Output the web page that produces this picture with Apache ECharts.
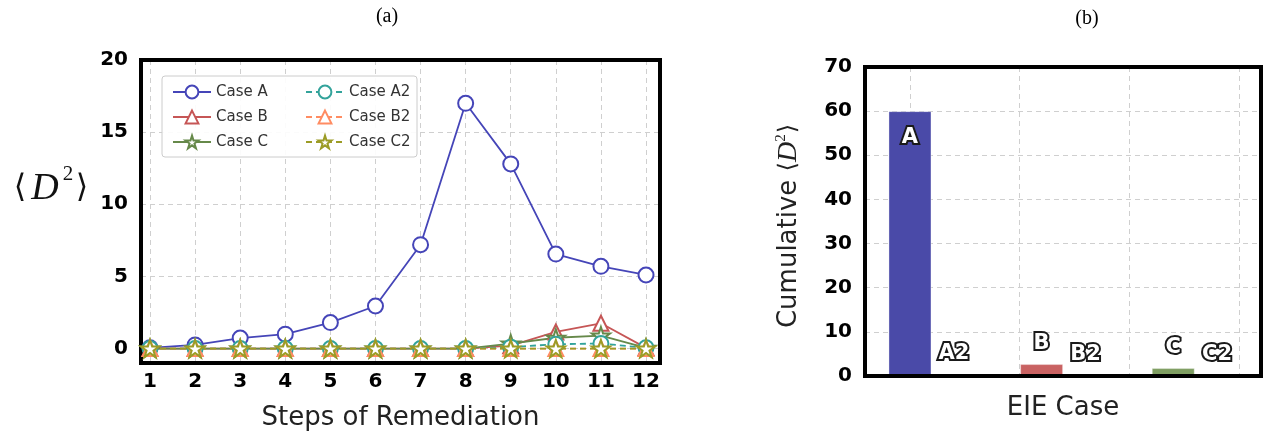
<!DOCTYPE html>
<html>
<head>
<meta charset="utf-8">
<script src="https://cdn.jsdelivr.net/npm/echarts@6/dist/echarts.min.js"></script>
<style>
html,body{margin:0;padding:0;background:#fff;}
#chart{width:1266px;height:445px;}
</style>
</head>
<body>
<div id="chart"></div>
<script>
// ---------- data: panel (a) ----------
const steps = [1,2,3,4,5,6,7,8,9,10,11,12];
const xTickLabels = [1,2,3,4,5,6,7,8,9,10,11,12];
const yTickLabelsA = [0,5,10,15,20];
const caseA  = [0.05,0.25,0.73,1.0,1.8,2.95,7.2,17.0,12.8,6.55,5.7,5.1];
const caseB  = [0,0,0,0,0,0,0,0,0.2,1.15,1.75,0.05];
const caseC  = [0,0,0,0,0,0,0,0,0.35,0.75,0.9,0.05];
const caseA2 = [0,0,0,0,0,0,0,0,0.1,0.3,0.35,0.05];
const caseB2 = [0,0,0,0,0,0,0,0,0,0,0,0];
const caseC2 = [0,0,0,0,0,0,0,0,0,0,0,0];

// ---------- data: panel (b) ----------
const eieCases     = ['A','A2','B','B2','C','C2'];
const eiePositions = [0,0.4,1.2,1.6,2.4,2.8];
const cumulative   = [60,0.4,2.7,0.1,1.8,0.1];
const yTickLabelsB = [0,10,20,30,40,50,60,70];
const xGridB       = [0,1,2,3];

const STAR = 'path://M0,-10 L2.25,-3.09 L9.51,-3.09 L3.63,1.18 L5.88,8.09 L0,3.82 L-5.88,8.09 L-3.63,1.18 L-9.51,-3.09 L-2.25,-3.09 Z';
const colors = {
  'Case A':'#4545b8','Case B':'#c65656','Case C':'#66894a',
  'Case A2':'#33a39b','Case B2':'#ff8c62','Case C2':'#9c9c26'
};
const barColors = {A:'#4a4aa8',B:'#c96262',C:'#7f9e62'};

function mkLine(name, vals, symbol, dashed, size){
  const c = colors[name];
  return {
    name, type:'line', xAxisIndex:0, yAxisIndex:0,
    data: steps.map((s,i)=>[s, vals[i]]),
    symbol, symbolSize: size, symbolKeepAspect:true, showAllSymbol:true,
    lineStyle:{color:c, width:1.8, type: dashed ? [6,4] : 'solid'},
    itemStyle:{color:'#fff', borderColor:c, borderWidth:2},
    emphasis:{disabled:true}
  };
}

const chart = echarts.init(document.getElementById('chart'), null, {renderer:'canvas'});
const tickFont = {fontFamily:'DejaVu Sans', fontWeight:'bold', fontSize:20, color:'#000'};
const gridLine = {show:true, lineStyle:{color:'#cfcfcf', type:[5,4], width:1}};

const option = {
  animation:false,
  backgroundColor:'#fff',
  grid:[
    {left:141, right:606, top:60, bottom:82, show:true, borderColor:'#000', borderWidth:4, backgroundColor:'transparent', z:3},
    {left:865, right:5, top:67, bottom:69, show:true, borderColor:'#000', borderWidth:4, backgroundColor:'transparent', z:3}
  ],
  xAxis:[
    {type:'value', gridIndex:0, min:0.8, max:12.31,
     axisLine:{show:false}, axisTick:{show:false, customValues:xTickLabels},
     axisLabel:Object.assign({customValues:xTickLabels, margin:9}, tickFont),
     splitLine:gridLine,
     name:'Steps of Remediation', nameLocation:'middle', nameGap:42,
     nameTextStyle:{fontFamily:'DejaVu Sans', fontSize:26, color:'#222'}},
    {type:'value', gridIndex:1, min:-0.41, max:3.2,
     axisLine:{show:false}, axisTick:{show:false, customValues:xGridB},
     axisLabel:{show:false, customValues:xGridB},
     splitLine:gridLine,
     name:'EIE Case', nameLocation:'middle', nameGap:19,
     nameTextStyle:{fontFamily:'DejaVu Sans', fontSize:26, color:'#222'}}
  ],
  yAxis:[
    {type:'value', gridIndex:0, min:-1, max:20,
     axisLine:{show:false}, axisTick:{show:false, customValues:yTickLabelsA},
     axisLabel:Object.assign({customValues:yTickLabelsA, margin:13}, tickFont),
     splitLine:gridLine},
    {type:'value', gridIndex:1, min:0, max:70,
     axisLine:{show:false}, axisTick:{show:false, customValues:yTickLabelsB},
     axisLabel:Object.assign({customValues:yTickLabelsB, margin:13}, tickFont),
     splitLine:gridLine}
  ],
  legend:[
    {data:['Case A','Case B','Case C'], orient:'vertical', left:167, top:79,
     itemWidth:38, itemHeight:16, itemGap:9, z:6,
     textStyle:{fontFamily:'DejaVu Sans', fontSize:15, color:'#333', lineHeight:16}},
    {data:['Case A2','Case B2','Case C2'], orient:'vertical', left:300, top:79,
     itemWidth:38, itemHeight:16, itemGap:9, z:6,
     textStyle:{fontFamily:'DejaVu Sans', fontSize:15, color:'#333', lineHeight:16}}
  ],
  graphic:[
    {type:'rect', z:5, shape:{x:162, y:76, width:255, height:81, r:3},
     style:{fill:'rgba(255,255,255,0.9)', stroke:'#cccccc', lineWidth:1}},
    {type:'text', x:387, y:17, z:5, style:{text:'(a)', font:'20px "Liberation Serif"', fill:'#000', align:'center', verticalAlign:'middle'}},
    {type:'text', x:1087, y:19, z:5, style:{text:'(b)', font:'20px "Liberation Serif"', fill:'#000', align:'center', verticalAlign:'middle'}},
    // y-axis label of (a): <D^2>
    {type:'text', x:20, y:189, z:5, style:{text:'\u27E8', font:'32px "DejaVu Serif"', fill:'#111', align:'center', verticalAlign:'middle'}},
    {type:'text', x:45, y:189, z:5, style:{text:'D', font:'italic 38px "Liberation Serif"', fill:'#111', align:'center', verticalAlign:'middle'}},
    {type:'text', x:68, y:174, z:5, style:{text:'2', font:'21px "Liberation Serif"', fill:'#111', align:'center', verticalAlign:'middle'}},
    {type:'text', x:82, y:189, z:5, style:{text:'\u27E9', font:'32px "DejaVu Serif"', fill:'#111', align:'center', verticalAlign:'middle'}},
    // y-axis label of (b)
    {type:'text', x:789, y:226, rotation:Math.PI/2, z:5,
     style:{text:'{t|Cumulative }{b|\u27E8}{d|D}{s|2}{b|\u27E9}', align:'center', verticalAlign:'middle', fill:'#222',
       rich:{
         t:{fontFamily:'DejaVu Sans', fontSize:26, lineHeight:30, verticalAlign:'middle'},
         b:{fontFamily:'DejaVu Serif', fontSize:24, lineHeight:30, verticalAlign:'middle'},
         d:{fontFamily:'Liberation Serif', fontStyle:'italic', fontSize:28, lineHeight:30, verticalAlign:'middle'},
         s:{fontFamily:'Liberation Serif', fontSize:15, lineHeight:30, verticalAlign:'top', padding:[0,1,12,0]}
       }}}
  ],
  series:[
    mkLine('Case A', caseA, 'circle', false, 15),
    mkLine('Case B', caseB, 'triangle', false, 15),
    mkLine('Case C', caseC, STAR, false, 18),
    mkLine('Case A2', caseA2, 'circle', true, 15),
    mkLine('Case B2', caseB2, 'triangle', true, 15),
    mkLine('Case C2', caseC2, STAR, true, 18),
    {
      name:'Cumulative', type:'bar', xAxisIndex:1, yAxisIndex:1, barWidth:43,
      emphasis:{disabled:true},
      data: eieCases.map((n,i)=>{
        const base = n.charAt(0);
        const primary = n.length === 1;
        return {
          name:n, value:[eiePositions[i], cumulative[i]],
          itemStyle:{color: primary ? barColors[base] : 'rgba(0,0,0,0)', borderColor: primary ? 'rgba(255,255,255,0.35)' : 'rgba(0,0,0,0)', borderWidth:1},
          label:{show:true, formatter:n,
            position: n==='A' ? 'insideTop' : 'top', distance: n==='A' ? 16 : 10,
            fontFamily:'DejaVu Sans', fontWeight:'bold', fontSize:21, color:'#fff',
            textBorderColor:'#1a1a1a', textBorderWidth:4}
        };
      })
    }
  ]
};
chart.setOption(option);
</script>
</body>
</html>
